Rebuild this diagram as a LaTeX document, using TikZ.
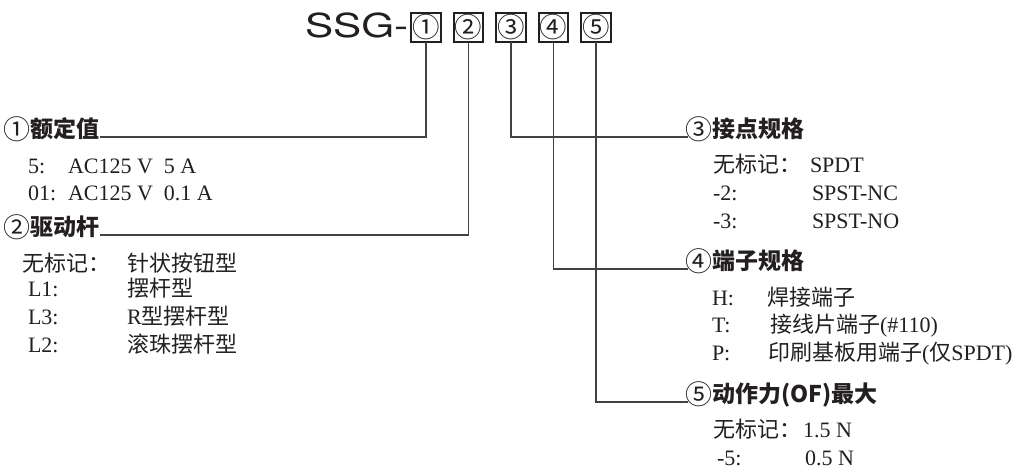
\documentclass[tikz,border=0pt]{standalone}
\usepackage{fontspec}
\usepackage{graphicx}
\setmainfont{Liberation Serif}
\newfontfamily\cjk{Noto Sans CJK SC}
\newfontfamily\ttlfont{TeX Gyre Heros}
\definecolor{ink}{RGB}{35,31,32}
\newcommand\zhtext[1]{{\cjk\fontsize{22}{22}\selectfont #1}}
\newcommand\headnum[1]{\hspace{-3pt}\raisebox{-1.6pt}{\mdseries\fontsize{27}{27}\selectfont #1}}
\newcommand\boxnum[1]{\makebox[0pt]{\smash{\raisebox{-0.37em}{#1}}}}
\begin{document}
\begin{tikzpicture}[x=1pt,y=-1pt,
  every node/.style={inner sep=0pt, outer sep=0pt, text=ink},
  ttl/.style={anchor=base west, font=\ttlfont\fontsize{33}{33}\selectfont},
  numbox/.style={draw=ink, line width=1.7pt, minimum width=29.5pt, minimum height=29.5pt, font=\cjk\fontsize{27.5}{27.5}\selectfont},
  head/.style={anchor=west, text height=0.54em, text depth=0.46em, font=\cjk\bfseries\fontsize{23}{23}\selectfont},
  body/.style={anchor=west, text height=0.8em, text depth=0.2em, font=\fontsize{22}{22}\selectfont},
  lead/.style={draw=ink!85, line width=1.1pt},
]
\useasboundingbox (0,0) rectangle (1023,474);

% title
\node[ttl] (ttl) at (305,37) {\scalebox{1.28}[1]{SSG-}};
\node[numbox] (b1) at (426,27.5) {\boxnum{①}};
\node[numbox] (b2) at (468.5,27.5) {\boxnum{②}};
\node[numbox] (b3) at (511,27.5) {\boxnum{③}};
\node[numbox] (b4) at (553.5,27.5) {\boxnum{④}};
\node[numbox] (b5) at (596,27.5) {\boxnum{⑤}};

% headings
\node[head] (h1) at (7,137) {\headnum{①}额定值};
\node[head] (h2) at (7,235) {\headnum{②}驱动杆};
\node[head] (h3) at (688,137) {\headnum{③}接点规格};
\node[head] (h4) at (688,269) {\headnum{④}端子规格};
\node[head] (h5) at (688,402) {\headnum{⑤}动作力(OF)最大};

% connectors
\draw[lead] (h1.east) -| (b1.south);
\draw[lead] (h2.east) -| (b2.south);
\draw[lead] (b3.south) |- (h3.west);
\draw[lead] (b4.south) |- (h4.west);
\draw[lead] (b5.south) |- (h5.west);

% section 1
\node[body] (r1k) at (28,170) {5:};
\node[body] (r1v) at (68,170) {AC125 V\hspace{0.5em}5 A};
\node[body] (r2k) at (28,197) {01:};
\node[body] (r2v) at (68,197) {AC125 V\hspace{0.5em}0.1 A};

% section 2
\node[body] (d1k) at (23,268) {\zhtext{无标记：}};
\node[body] (d1v) at (127,268) {\zhtext{针状按钮型}};
\node[body] (d2k) at (28,293) {L1:};
\node[body] (d2v) at (127,293) {\zhtext{摆杆型}};
\node[body] (d3k) at (28,321) {L3:};
\node[body] (d3v) at (127,321) {R\zhtext{型摆杆型}};
\node[body] (d4k) at (28,349) {L2:};
\node[body] (d4v) at (127,349) {\zhtext{滚珠摆杆型}};

% section 3
\node[body] (c1k) at (713,169) {\zhtext{无标记：}};
\node[body] (c1v) at (810,169) {SPDT};
\node[body] (c2k) at (713,197) {-2:};
\node[body] (c2v) at (812,197) {SPST-NC};
\node[body] (c3k) at (713,225) {-3:};
\node[body] (c3v) at (812,225) {SPST-NO};

% section 4
\node[body] (t1k) at (712,302) {H:};
\node[body] (t1v) at (767,302) {\zhtext{焊接端子}};
\node[body] (t2k) at (712,329) {T:};
\node[body] (t2v) at (770,329) {\zhtext{接线片端子}(\#110)};
\node[body] (t3k) at (712,357) {P:};
\node[body] (t3v) at (768,357) {\zhtext{印刷基板用端子}(\zhtext{仅}SPDT)};

% section 5
\node[body] (f1k) at (713,434) {\zhtext{无标记：}};
\node[body] (f1v) at (803,434) {1.5 N};
\node[body] (f2k) at (717,462) {-5:};
\node[body] (f2v) at (805,462) {0.5 N};
\end{tikzpicture}
\end{document}
